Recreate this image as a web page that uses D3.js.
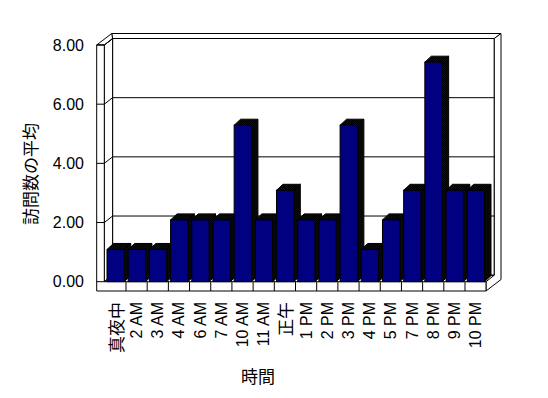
<!DOCTYPE html>
<html>
<head>
<meta charset="utf-8">
<script src="https://cdn.jsdelivr.net/npm/d3@7"></script>
<style>
  body { margin: 0; background: #fff; }
  text { font-family: "Liberation Sans", Arial, sans-serif; fill: #000; }
  .jp { font-family: "Noto Sans CJK JP", sans-serif; }
</style>
</head>
<body>
<div id="chart"></div>
<script>
var categories = ["真夜中", "2 AM", "3 AM", "4 AM", "6 AM", "7 AM", "10 AM", "11 AM", "正午",
                  "1 PM", "2 PM", "3 PM", "4 PM", "5 PM", "7 PM", "8 PM", "9 PM", "10 PM"];
var values = [1, 1, 1, 2, 2, 2, 5.2, 2, 3, 2, 2, 5.2, 1, 2, 3, 7.33, 3, 3];
var yTicks = [0, 2, 4, 6, 8];
var yTitle = "訪問数の平均";
var xTitle = "時間";

var W = 548, H = 398;
var svg = d3.select("#chart").append("svg")
  .attr("width", W).attr("height", H);

// dithered fill for bar sides
var defs = svg.append("defs");
var pat = defs.append("pattern").attr("id", "dither")
  .attr("width", 2).attr("height", 2).attr("patternUnits", "userSpaceOnUse");
pat.append("rect").attr("width", 2).attr("height", 2).attr("fill", "#000080");
pat.append("rect").attr("width", 1).attr("height", 1).attr("fill", "#000");
pat.append("rect").attr("x", 1).attr("y", 1).attr("width", 1).attr("height", 1).attr("fill", "#000");

// front plane geometry
var wallOuter = 96.7, leftX = 104.3, rightX = 486;
var floorTop = 281.7, floorBottom = 291, topY = 45;
var dIn = [8.3, -6.5], dOut = [15, -11.5];   // depth to back wall inner / outer
var dBar = [3.4, -2.65], dBarDepth = [6.5, -6];

var y = d3.scaleLinear().domain([0, 8]).range([floorTop, topY]);
var x = d3.scaleBand().domain(categories).range([104.8, 486.2]).padding(0);

function poly(pts) { return "M" + pts.map(function(p){ return p.join(","); }).join("L") + "Z"; }

var walls = svg.append("g").attr("fill", "#fff").attr("stroke", "#000").attr("stroke-width", 1);

// back wall face
walls.append("path").attr("d", poly([
  [leftX + dIn[0], topY + dIn[1]], [rightX + dIn[0], topY + dIn[1]],
  [rightX + dIn[0], floorTop + dIn[1]], [leftX + dIn[0], floorTop + dIn[1]]]));
// back wall top
walls.append("path").attr("d", poly([
  [wallOuter + dOut[0], topY + dOut[1]], [rightX + dOut[0], topY + dOut[1]],
  [rightX + dIn[0], topY + dIn[1]], [leftX + dIn[0], topY + dIn[1]]]));
// right edge of back wall + floor end
walls.append("path").attr("d", poly([
  [rightX, floorTop], [rightX + dIn[0], floorTop + dIn[1]], [rightX + dIn[0], topY + dIn[1]],
  [rightX + dOut[0], topY + dOut[1]], [rightX + dOut[0], floorBottom + dOut[1]], [rightX, floorBottom]]));
// left wall inner face
walls.append("path").attr("d", poly([
  [leftX, topY], [leftX + dIn[0], topY + dIn[1]], [leftX + dIn[0], floorTop + dIn[1]], [leftX, floorTop]]));
// left wall top
walls.append("path").attr("d", poly([
  [wallOuter, topY], [wallOuter + dOut[0], topY + dOut[1]], [leftX + dIn[0], topY + dIn[1]], [leftX, topY]]));
// left wall front + floor front
walls.append("path").attr("d", poly([
  [wallOuter, topY], [leftX, topY], [leftX, floorTop], [rightX, floorTop], [rightX, floorBottom], [wallOuter, floorBottom]]));

// category dividers on floor front
svg.append("g").selectAll("line").data(categories.slice(1)).join("line")
  .attr("x1", function(d){ return x(d); }).attr("x2", function(d){ return x(d); })
  .attr("y1", floorTop).attr("y2", floorBottom)
  .attr("stroke", "#000");

// gridlines + ticks over left wall
svg.append("g").selectAll("path").data(yTicks).join("path")
  .attr("d", function(v){
    var yy = y(v);
    return "M" + wallOuter + "," + yy + "L" + leftX + "," + yy +
      "L" + (leftX + dIn[0]) + "," + (yy + dIn[1]) + "L" + (rightX + dIn[0]) + "," + (yy + dIn[1]);
  })
  .attr("fill", "none").attr("stroke", "#000");

// y tick labels
svg.append("g").selectAll("text").data(yTicks).join("text")
  .attr("x", 84).attr("y", function(v){ return y(v); })
  .attr("text-anchor", "end").attr("dominant-baseline", "central")
  .style("font-size", "16px")
  .text(function(v){ return d3.format(".2f")(v); });

// bars
var bw = x.bandwidth();
var bars = svg.append("g").selectAll("g").data(values).join("g");
bars.each(function(v, i){
  var g = d3.select(this);
  var x0 = x(categories[i]) + bw * 0.104, w = bw * 0.816;
  var yt = y(v) + dBar[1], yb = floorTop;
  var dx = dBarDepth[0], dy = dBarDepth[1];
  g.append("path").attr("d", poly([[x0 + w, yt], [x0 + w + dx, yt + dy], [x0 + w + dx, yb + dy], [x0 + w, yb]]))
    .attr("fill", "url(#dither)").attr("stroke", "#000");
  g.append("path").attr("d", poly([[x0, yt], [x0 + dx, yt + dy], [x0 + w + dx, yt + dy], [x0 + w, yt]]))
    .attr("fill", "url(#dither)").attr("stroke", "#000");
  g.append("rect").attr("x", x0).attr("y", yt).attr("width", w).attr("height", yb - yt)
    .attr("fill", "#000080").attr("stroke", "#000");
});

// category labels
svg.append("g").selectAll("text").data(categories).join("text")
  .attr("transform", function(d){ return "translate(" + (x(d) + bw / 2) + ",302) rotate(-90)"; })
  .attr("text-anchor", "end").attr("dominant-baseline", "central")
  .attr("class", function(d){ return /[A-Z]/.test(d) ? null : "jp"; })
  .style("font-size", function(d){ return /[A-Z]/.test(d) ? "16px" : "17px"; })
  .text(function(d){ return d; });

// axis titles
svg.append("text").attr("class", "jp")
  .attr("transform", "translate(29,174) rotate(-90)")
  .attr("text-anchor", "middle").attr("dominant-baseline", "central")
  .style("font-size", "17px").text(yTitle);

svg.append("text").attr("class", "jp")
  .attr("x", 258).attr("y", 375)
  .attr("text-anchor", "middle").attr("dominant-baseline", "central")
  .style("font-size", "17px").text(xTitle);
</script>
</body>
</html>
